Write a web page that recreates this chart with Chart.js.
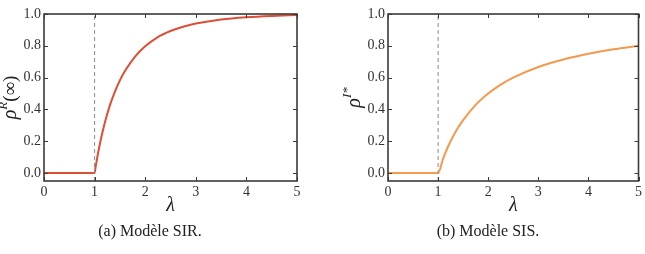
<!DOCTYPE html>
<html>
<head>
<meta charset="utf-8">
<script src="https://cdn.jsdelivr.net/npm/chart.js@4.4.1/dist/chart.umd.min.js"></script>
<style>
  html, body { margin:0; padding:0; background:#fff; }
  #wrap { position:relative; width:645px; height:254px; overflow:hidden; }
  .panel { position:absolute; top:0; height:254px; }
  .cap { position:absolute; top:222px; font:16px/18px "Liberation Serif", serif; color:#222; text-align:center; }
</style>
</head>
<body>
<div id="wrap">
  <div class="panel" style="left:0;width:320px"><canvas id="sir" width="320" height="254"></canvas></div>
  <div class="panel" style="left:330px;width:315px"><canvas id="sis" width="315" height="254"></canvas></div>
  <div class="cap" style="left:70px;width:160px">(a) Modèle SIR.</div>
  <div class="cap" style="left:408px;width:160px">(b) Modèle SIS.</div>
</div>
<script>
// values
const lambdaSIR = [0, 0.5, 1.0, 1.02, 1.05, 1.1, 1.2, 1.3, 1.4, 1.5, 1.6, 1.8, 2.0, 2.25, 2.5, 2.75, 3.0, 3.5, 4.0, 4.5, 5.0];
const rhoSIR    = [0, 0, 0, 0.039, 0.093, 0.176, 0.314, 0.424, 0.511, 0.583, 0.641, 0.732, 0.797, 0.855, 0.893, 0.920, 0.940, 0.966, 0.980, 0.988, 0.993];
const lambdaSIS = [0, 0.5, 1.0, 1.1, 1.2, 1.3, 1.4, 1.5, 1.75, 2.0, 2.25, 2.5, 3.0, 3.5, 4.0, 4.5, 5.0];
const rhoSIS    = [0, 0, 0, 0.091, 0.167, 0.231, 0.286, 0.333, 0.429, 0.5, 0.556, 0.6, 0.667, 0.714, 0.75, 0.778, 0.8];
const threshold = 1;
const xTicks = [0, 1, 2, 3, 4, 5];
const yTicks = [0, 0.2, 0.4, 0.6, 0.8, 1.0];
const yMin = -0.05, yMax = 1.0;

const SERIF = '"Liberation Serif", "DejaVu Serif", serif';
const AXIS = '#3a3a3a';

// box + inward ticks on all four sides, plus the y label with superscript
const frame = {
  id: 'frame',
  afterDraw(chart, args, opts) {
    const { ctx, chartArea: a, scales: { x, y } } = chart;
    ctx.save();
    ctx.strokeStyle = AXIS; ctx.lineWidth = 1;
    xTicks.forEach(v => {
      const px = Math.round(x.getPixelForValue(v)) + 0.5;
      ctx.beginPath(); ctx.moveTo(px, a.bottom); ctx.lineTo(px, a.bottom - 4);
      ctx.moveTo(px, a.top); ctx.lineTo(px, a.top + 4); ctx.stroke();
    });
    yTicks.forEach(v => {
      const py = Math.round(y.getPixelForValue(v)) + 0.5;
      ctx.beginPath(); ctx.moveTo(a.left, py); ctx.lineTo(a.left + 4, py);
      ctx.moveTo(a.right, py); ctx.lineTo(a.right - 4, py); ctx.stroke();
    });
    ctx.lineWidth = 1.6;
    ctx.strokeRect(a.left, a.top, a.right - a.left, a.bottom - a.top);

    // y label, centred on the axis
    ctx.translate(opts.lx, (a.top + a.bottom) / 2);
    ctx.rotate(-Math.PI / 2);
    ctx.fillStyle = '#222';
    ctx.textBaseline = 'alphabetic';
    ctx.textAlign = 'left';
    let parts = opts.parts, w = 0;
    parts.forEach(p => { ctx.font = p.font; w += ctx.measureText(p.t).width; });
    let cx = -w / 2;
    parts.forEach(p => {
      ctx.font = p.font; ctx.fillText(p.t, cx, p.dy || 0); cx += ctx.measureText(p.t).width;
    });
    ctx.restore();
  }
};

function makeChart(id, xs, ys, color, yAxisW, padRight, label) {
  const pts = xs.map((v, i) => ({ x: v, y: ys[i] }));
  return new Chart(document.getElementById(id), {
    type: 'line',
    data: { datasets: [
      { data: [{ x: threshold, y: yMin }, { x: threshold, y: yMax }], borderColor: '#8a8a8a', borderWidth: 1,
        borderDash: [4, 3], pointRadius: 0 },
      { data: pts, borderColor: color, borderWidth: 2, pointRadius: 0, cubicInterpolationMode: 'monotone' }
    ]},
    options: {
      responsive: false, animation: false, events: [],
      layout: { padding: { top: 14, right: padRight, left: 0, bottom: 36 } },
      plugins: { legend: { display: false }, tooltip: { enabled: false }, frame: label },
      scales: {
        x: { type: 'linear', min: 0, max: 5,
          afterBuildTicks: s => { s.ticks = xTicks.map(v => ({ value: v })); },
          afterFit: s => { s.height = 37; },
          grid: { display: false, drawTicks: false }, border: { display: false },
          ticks: { padding: 3, color: '#333', font: { family: SERIF, size: 14 }, callback: v => String(v) },
          title: { display: true, text: 'λ', color: '#222', padding: 0,
                   font: { family: SERIF, size: 20, style: 'italic' } } },
        y: { type: 'linear', min: yMin, max: yMax,
          afterBuildTicks: s => { s.ticks = yTicks.map(v => ({ value: v })); },
          afterFit: s => { s.width = yAxisW; },
          grid: { display: false, drawTicks: false }, border: { display: false },
          ticks: { padding: 3, color: '#333', font: { family: SERIF, size: 14 }, callback: v => Number(v).toFixed(1) } }
      }
    },
    plugins: [frame]
  });
}

const big = 'italic 20px ' + SERIF, sup = 'italic 13px ' + SERIF, up = '19px ' + SERIF;
makeChart('sir', lambdaSIR, rhoSIR, '#dc4e36', 44, 23,
  { lx: 16, parts: [{ t: 'ρ', font: big }, { t: 'R', font: sup, dy: -9 }, { t: '(∞)', font: up }] });
makeChart('sis', lambdaSIS, rhoSIS, '#f39a4e', 58, 5,
  { lx: 30, parts: [{ t: 'ρ', font: big }, { t: 'I*', font: sup, dy: -9 }] });
</script>
</body>
</html>
